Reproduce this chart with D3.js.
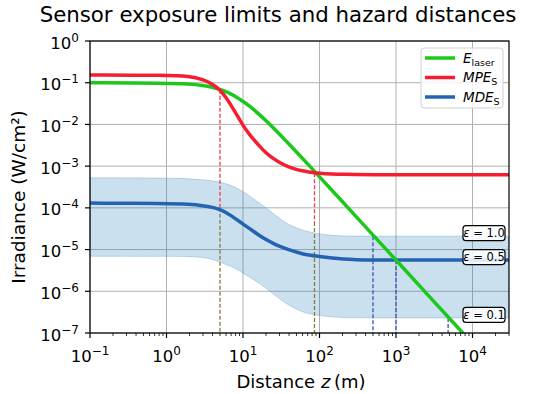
<!DOCTYPE html>
<html>
<head>
<meta charset="utf-8">
<script src="https://cdn.jsdelivr.net/npm/d3@7"></script>
<style>
  body { margin: 0; background: #fff; }
  text { font-family: "DejaVu Sans", sans-serif; fill: #000; }
</style>
</head>
<body>
<div id="chart"></div>
<script>
// DATA
////////////////////////////
var zs        = [0.1, 1, 2, 3, 4, 5, 6, 7, 8, 10, 12, 14, 16, 20, 25, 30, 40, 50, 60, 70, 100, 150, 200, 300, 500, 1000, 3000, 10000, 30000];
var eLaser    = [0.1, 0.0982, 0.0933, 0.0861, 0.0778, 0.0691, 0.0609, 0.0533, 0.0466, 0.0359, 0.028, 0.0222, 0.0179, 0.0123, 0.00822, 0.00585, 0.00338, 0.00219, 0.00153, 0.00113, 0.000556, 0.000248, 0.00014, 6.21e-5, 2.24e-5, 5.6e-6, 6.2e-7, 5.6e-8, 6.2e-9];
var mpeS      = [0.153, 0.151, 0.143, 0.12, 0.093, 0.068, 0.044, 0.0285, 0.019, 0.0094, 0.0059, 0.0042, 0.0032, 0.00204, 0.00151, 0.00121, 0.00094, 0.00083, 0.00077, 0.00073, 0.000675, 0.000646, 0.000635, 0.000627, 0.000621, 0.00062, 0.00062, 0.00062, 0.00062];
var mdeS      = [1.30e-4, 1.28e-4, 1.22e-4, 1.13e-4, 1.03e-4, 9.2e-5, 7.8e-5, 6.5e-5, 5.5e-5, 4.1e-5, 3.25e-5, 2.65e-5, 2.25e-5, 1.72e-5, 1.4e-5, 1.2e-5, 9.8e-6, 8.7e-6, 7.9e-6, 7.4e-6, 6.8e-6, 6.2e-6, 5.9e-6, 5.7e-6, 5.6e-6, 5.6e-6, 5.6e-6, 5.6e-6, 5.6e-6];
// eps = 1.0
var mdeUpper  = [5.25e-4, 5.2e-4, 5.0e-4, 4.7e-4, 4.45e-4, 4.15e-4, 3.8e-4, 3.45e-4, 3.1e-4, 2.45e-4, 1.95e-4, 1.6e-4, 1.35e-4, 1.0e-4, 7.2e-5, 5.6e-5, 3.9e-5, 3.3e-5, 2.95e-5, 2.7e-5, 2.35e-5, 2.17e-5, 2.12e-5, 2.1e-5, 2.1e-5, 2.1e-5, 2.1e-5, 2.1e-5, 2.1e-5];
// eps = 0.1
var mdeLower  = [6.9e-6, 6.9e-6, 6.8e-6, 6.5e-6, 5.8e-6, 5.0e-6, 4.4e-6, 3.9e-6, 3.5e-6, 2.75e-6, 2.2e-6, 1.85e-6, 1.6e-6, 1.18e-6, 8.6e-7, 6.6e-7, 4.6e-7, 3.7e-7, 3.2e-7, 2.95e-7, 2.6e-7, 2.4e-7, 2.35e-7, 2.32e-7, 2.3e-7, 2.3e-7, 2.3e-7, 2.3e-7, 2.3e-7];

// hazard distances (vertical dashed lines)
var mpeHazardZ    = [5, 86];
var mpeHazardTop  = [0.068, 6.8e-4];
var mpeOliveTop   = [1.0e-4, 4.6e-5];
var mdeHazardZ    = [500, 1000, 4800];
var epsLabels     = ["1.0", "0.5", "0.1"];
var epsLevels     = [2.1e-5, 5.6e-6, 2.3e-7];

var xTicks = [0.1, 1, 10, 100, 1000, 10000];
var yTicks = [1e-7, 1e-6, 1e-5, 1e-4, 1e-3, 1e-2, 1e-1, 1];

// SETUP
////////////////////////////
var width = 550, height = 394;
var mLeft = 90, mRight = 509, mTop = 41, mBottom = 333;

var svg = d3.select("#chart").append("svg")
    .attr("width", width)
    .attr("height", height);

var x = d3.scaleLog().domain([0.1, 3e4]).range([mLeft, mRight]);
var y = d3.scaleLog().domain([1e-7, 1]).range([mBottom, mTop]);

var green = "#1cc81c", red = "#f41e30", blue = "#2463b2";

svg.append("clipPath").attr("id", "clip")
  .append("rect")
    .attr("x", mLeft).attr("y", mTop)
    .attr("width", mRight - mLeft).attr("height", mBottom - mTop);

// grid
svg.append("g").selectAll("line")
  .data(xTicks).enter().append("line")
    .attr("x1", function(d) { return x(d); }).attr("x2", function(d) { return x(d); })
    .attr("y1", mTop).attr("y2", mBottom)
    .attr("stroke", "#b0b0b0").attr("stroke-width", 1);
svg.append("g").selectAll("line")
  .data(yTicks).enter().append("line")
    .attr("y1", function(d) { return y(d); }).attr("y2", function(d) { return y(d); })
    .attr("x1", mLeft).attr("x2", mRight)
    .attr("stroke", "#b0b0b0").attr("stroke-width", 1);

var plot = svg.append("g").attr("clip-path", "url(#clip)");

var idx = d3.range(zs.length);

// band between eps = 0.1 and eps = 1.0
var band = d3.area()
    .x(function(i) { return x(zs[i]); })
    .y0(function(i) { return y(mdeLower[i]); })
    .y1(function(i) { return y(mdeUpper[i]); })
    .curve(d3.curveBasis);
plot.append("path")
    .attr("d", band(idx))
    .attr("fill", "#1f77b4").attr("fill-opacity", 0.23)
    .attr("stroke", "#1f77b4").attr("stroke-opacity", 0.25).attr("stroke-width", 1);

function lineOf(arr) {
  return d3.line()
    .x(function(i) { return x(zs[i]); })
    .y(function(i) { return y(arr[i]); })
    .curve(d3.curveBasis)(idx);
}

// dashed hazard lines
mpeHazardZ.forEach(function(z, i) {
  plot.append("line")
      .attr("x1", x(z)).attr("x2", x(z))
      .attr("y1", y(mpeHazardTop[i])).attr("y2", y(mpeOliveTop[i]))
      .attr("stroke", "#e8404a").attr("stroke-width", 1.3)
      .attr("stroke-dasharray", "4,2");
  plot.append("line")
      .attr("x1", x(z)).attr("x2", x(z))
      .attr("y1", y(mpeOliveTop[i])).attr("y2", mBottom)
      .attr("stroke", "#8c7a3c").attr("stroke-width", 1.3)
      .attr("stroke-dasharray", "4,2");
});
mdeHazardZ.forEach(function(z, i) {
  plot.append("line")
      .attr("x1", x(z)).attr("x2", x(z))
      .attr("y1", y(epsLevels[i])).attr("y2", mBottom)
      .attr("stroke", "#3656b4").attr("stroke-width", 1.3)
      .attr("stroke-dasharray", "4,2");
});

// curves
plot.append("path").attr("d", lineOf(mdeS))
    .attr("fill", "none").attr("stroke", blue).attr("stroke-width", 3.5);
plot.append("path").attr("d", lineOf(eLaser))
    .attr("fill", "none").attr("stroke", green).attr("stroke-width", 3.5);
plot.append("path").attr("d", lineOf(mpeS))
    .attr("fill", "none").attr("stroke", red).attr("stroke-width", 3.5);

// spines
svg.append("rect")
    .attr("x", mLeft).attr("y", mTop)
    .attr("width", mRight - mLeft).attr("height", mBottom - mTop)
    .attr("fill", "none").attr("stroke", "#000").attr("stroke-width", 1.2);

// x ticks (major + minor)
var minor = [];
d3.range(-1, 5).forEach(function(e) {
  d3.range(2, 10).forEach(function(m) {
    var v = m * Math.pow(10, e);
    if (v <= 3e4) minor.push(v);
  });
});
svg.append("g").selectAll("line").data(minor).enter().append("line")
    .attr("x1", function(d) { return x(d); }).attr("x2", function(d) { return x(d); })
    .attr("y1", mBottom).attr("y2", mBottom + 3)
    .attr("stroke", "#000").attr("stroke-width", 0.8);
svg.append("g").selectAll("line").data(xTicks).enter().append("line")
    .attr("x1", function(d) { return x(d); }).attr("x2", function(d) { return x(d); })
    .attr("y1", mBottom).attr("y2", mBottom + 5)
    .attr("stroke", "#000").attr("stroke-width", 1.2);
svg.append("g").selectAll("line").data(yTicks).enter().append("line")
    .attr("y1", function(d) { return y(d); }).attr("y2", function(d) { return y(d); })
    .attr("x1", mLeft - 5).attr("x2", mLeft)
    .attr("stroke", "#000").attr("stroke-width", 1.2);

function powLabel(sel) {
  sel.each(function(d) {
    var e = Math.round(Math.log10(d));
    var t = d3.select(this);
    t.append("tspan").text("10");
    t.append("tspan").attr("dy", -7).attr("font-size", 12)
      .text(e < 0 ? "\u2212" + (-e) : "" + e);
  });
}

svg.append("g").selectAll("text").data(xTicks).enter().append("text")
    .attr("x", function(d) { return x(d); })
    .attr("y", 362)
    .attr("text-anchor", "middle")
    .attr("font-size", 16.5)
    .call(powLabel);

svg.append("g").selectAll("text").data(yTicks).enter().append("text")
    .attr("x", 79)
    .attr("y", function(d) { return y(d) + 7.5; })
    .attr("text-anchor", "end")
    .attr("font-size", 16.5)
    .call(powLabel);

// titles
svg.append("text")
    .attr("x", 278).attr("y", 22)
    .attr("text-anchor", "middle").attr("font-size", 21.3)
    .text("Sensor exposure limits and hazard distances");

var xl = svg.append("text")
    .attr("x", 301).attr("y", 388)
    .attr("text-anchor", "middle").attr("font-size", 18);
xl.append("tspan").text("Distance ");
xl.append("tspan").attr("font-style", "italic").text("z");
xl.append("tspan").text("\u2009(m)");

svg.append("text")
    .attr("transform", "translate(25,197) rotate(-90)")
    .attr("text-anchor", "middle").attr("font-size", 18.5)
    .text("Irradiance (W/cm\u00b2)");

// eps labels
epsLabels.forEach(function(lab, i) {
  var cy = y(epsLevels[i]) - 3;
  var g = svg.append("g");
  g.append("rect")
      .attr("x", 463).attr("y", cy - 7.5)
      .attr("width", 42).attr("height", 15)
      .attr("rx", 3)
      .attr("fill", "#fff").attr("fill-opacity", 0.85)
      .attr("stroke", "#000").attr("stroke-width", 1.2);
  var t = g.append("text")
      .attr("x", 484).attr("y", cy + 4)
      .attr("text-anchor", "middle").attr("font-size", 11.5);
  t.append("tspan").attr("font-style", "italic").text("\u03b5");
  t.append("tspan").text(" = " + lab);
});

// legend
var legendItems = [
  { main: "E", sub: "laser", color: green },
  { main: "MPE", sub: "S", color: red },
  { main: "MDE", sub: "S", color: blue }
];
var legend = svg.append("g");
legend.append("rect")
    .attr("x", 421).attr("y", 48)
    .attr("width", 82).attr("height", 60)
    .attr("rx", 3)
    .attr("fill", "#fff").attr("fill-opacity", 0.8)
    .attr("stroke", "#d0d0d0").attr("stroke-width", 1);
legendItems.forEach(function(d, i) {
  var ly = 58 + i * 19.5;
  legend.append("line")
      .attr("x1", 425).attr("x2", 455)
      .attr("y1", ly).attr("y2", ly)
      .attr("stroke", d.color).attr("stroke-width", 3.5);
  var t = legend.append("text")
      .attr("x", 463).attr("y", ly + 4.5)
      .attr("font-size", 13.5);
  t.append("tspan").attr("font-style", "italic").text(d.main);
  t.append("tspan").attr("dy", 3).attr("font-size", 9.5).text(d.sub);
});
</script>
</body>
</html>
